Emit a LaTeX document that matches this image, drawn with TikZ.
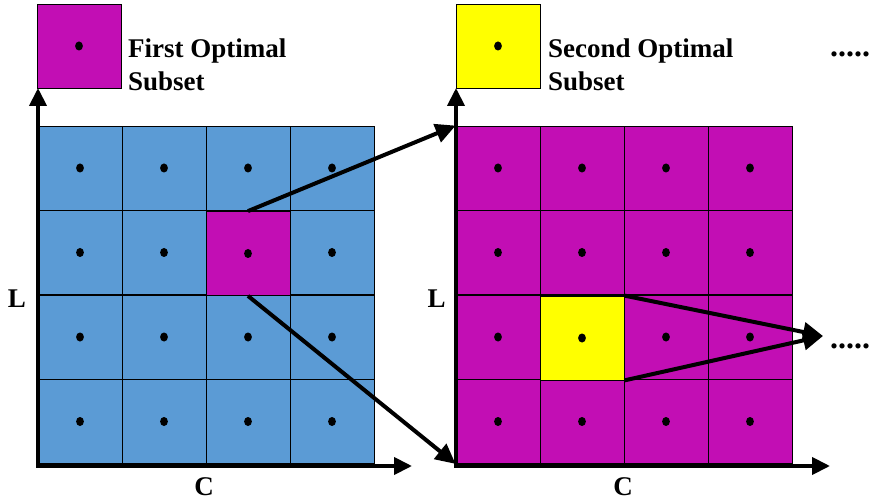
\documentclass[tikz,border=0pt]{standalone}
\usepackage{fontspec}
\setmainfont{Liberation Serif}
\usetikzlibrary{arrows.meta}
\definecolor{cellblue}{RGB}{91,155,213}
\definecolor{cellpink}{RGB}{194,14,180}
\definecolor{cellyellow}{RGB}{255,255,0}

\begin{document}
\begin{tikzpicture}[
  x=1pt, y=-1pt,
  cell/.style={draw, line width=0.8pt, minimum size=84pt, inner sep=0pt},
  axis/.style={line width=4pt, -{Triangle[length=18pt,width=17pt]}},
  jump/.style={line width=4pt, -{Triangle[length=20pt,width=19pt]}},
  lbl/.style={font=\bfseries\fontsize{27}{33}\selectfont, inner sep=0pt},
  more/.style={font=\bfseries\fontsize{32}{33}\selectfont, inner sep=0pt},
]
\useasboundingbox (0,0) rectangle (877,502);

% the two grids
\foreach \i in {0,...,3}
  \foreach \j in {0,...,3} {
    \node[cell, fill=cellblue] (L-\i-\j) at (80+84*\j, 168+84.5*\i) {};
    \node[cell, fill=cellpink] (R-\i-\j) at (498+84*\j, 168+84.5*\i) {};
  }
\node[cell, fill=cellpink] (L-1-2) at (248, 253.5) {};
\node[cell, fill=cellyellow] (R-2-1) at (582, 338) {};
\foreach \i in {0,...,3}
  \foreach \j in {0,...,3} {
    \fill (L-\i-\j) ellipse (3.9pt and 4.5pt);
    \fill (R-\i-\j) ellipse (3.9pt and 4.5pt);
  }

% legend
\node[cell, fill=cellpink] (keyA) at (79,46) {};
\fill (keyA) ellipse (3.9pt and 4.5pt);
\node[lbl, align=left, anchor=north west] (keyAtxt) at (128,38.5) {First Optimal\\Subset};
\node[cell, fill=cellyellow] (keyB) at (498,46) {};
\fill (keyB) ellipse (3.9pt and 4.5pt);
\node[lbl, align=left, anchor=north west] (keyBtxt) at (548,38.5) {Second Optimal\\Subset};
\node[more, anchor=base west] (moreA) at (830,57) {.....};

% axes
\coordinate (Lo) at (38,466);
\coordinate (Ly) at (38,88);
\coordinate (Lx) at (412,466);
\coordinate (Ro) at (456,466);
\coordinate (Ry) at (456,88);
\coordinate (Rx) at (830,466);
\draw[axis] ([yshift=2pt]Lo) -- (Ly);
\draw[axis] ([xshift=-2pt]Lo) -- (Lx);
\draw[axis] ([yshift=2pt]Ro) -- (Ry);
\draw[axis] ([xshift=-2pt]Ro) -- (Rx);
\node[lbl] (Llab) at (17,298.5) {L};
\node[lbl] (Clab) at (204,486.5) {C};
\node[lbl] (Rllab) at (436.5,298.5) {L};
\node[lbl] (Rclab) at (623,486.5) {C};

% zoom arrows
\coordinate (tip) at (823,336);
\draw[jump] (L-1-2.north) -- (R-0-0.north west);
\draw[jump] (L-1-2.south) -- (R-3-0.south west);
\draw[jump] (R-2-1.north east) -- (tip);
\draw[jump] (R-2-1.south east) -- (tip);
\node[more, anchor=base west] (moreB) at (830,348) {.....};
\end{tikzpicture}
\end{document}
